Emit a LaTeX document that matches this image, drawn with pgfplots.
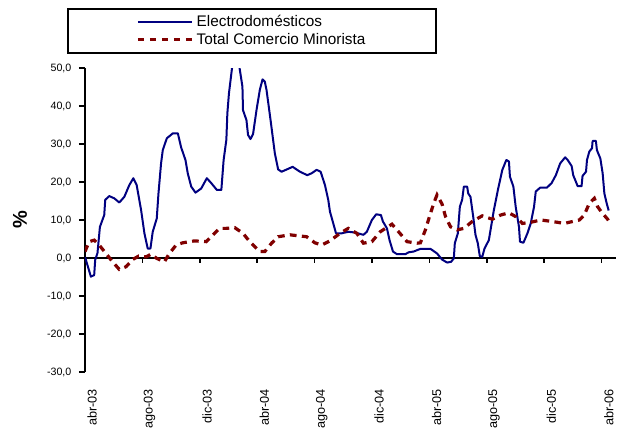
\documentclass[border=0pt]{standalone}
\usepackage{fontspec}
\setmainfont{Liberation Sans}
\usepackage{pgfplots}
\pgfplotsset{compat=1.18}
\usepackage{pgfplotstable}

\definecolor{electro}{HTML}{000080}
\definecolor{comercio}{HTML}{800000}

% variacion anual (%), x = meses desde abr-03
\pgfplotstableread{
mes valor
-0.50 0.3
-0.09 -4.9
0.14 -4.5
0.21 -0.5
0.37 1.3
0.54 8.2
0.84 11.3
0.91 15.3
1.19 16.3
1.54 15.7
1.89 14.6
2.24 16.1
2.59 19.2
2.87 21.0
3.10 19.2
3.41 12.6
3.64 6.5
3.87 2.5
4.06 2.5
4.22 6.9
4.50 10.4
4.62 17.0
4.80 24.9
4.92 28.4
5.20 31.5
5.62 32.8
5.97 32.8
6.20 29.1
6.50 25.8
6.66 22.3
6.90 18.8
7.20 17.2
7.60 18.3
7.99 21.0
8.30 19.7
8.69 17.9
9.00 17.9
9.16 25.8
9.35 31.1
9.42 38.1
9.53 43.3
9.70 48.6
9.81 52.0
10.23 51.0
10.47 45.1
10.51 38.9
10.75 36.3
10.86 32.4
11.03 31.3
11.21 32.6
11.45 38.9
11.68 44.2
11.87 47.0
12.03 46.4
12.15 44.2
12.43 36.3
12.73 27.5
12.96 23.3
13.20 22.7
13.97 24.0
14.48 22.7
14.99 21.8
15.29 22.3
15.64 23.2
15.92 22.7
16.22 19.2
16.45 15.3
16.57 12.2
16.80 9.1
16.99 6.5
17.39 6.5
17.85 6.9
18.32 6.7
18.90 6.1
19.14 6.9
19.49 10.0
19.79 11.5
20.12 11.3
20.26 9.6
20.54 7.8
20.72 4.7
20.96 1.7
21.24 1.0
21.82 1.0
22.05 1.5
22.40 1.7
22.87 2.4
23.57 2.4
23.69 2.1
24.03 1.2
24.38 -0.4
24.73 -1.2
25.01 -1.0
25.20 -0.1
25.27 3.9
25.48 6.5
25.62 13.5
25.78 15.3
25.90 18.8
26.13 18.8
26.20 17.0
26.36 16.1
26.55 10.9
26.71 6.1
26.87 3.9
27.01 0.5
27.18 0.3
27.34 2.5
27.64 4.7
27.76 7.4
27.99 12.6
28.27 17.9
28.58 23.2
28.86 25.8
29.04 25.4
29.11 21.4
29.35 18.8
29.51 13.5
29.74 8.2
29.81 4.3
30.05 4.0
30.33 6.5
30.56 9.1
30.79 13.5
30.91 17.5
31.21 18.5
31.68 18.5
32.01 19.7
32.31 21.8
32.61 24.9
32.96 26.5
33.13 25.8
33.41 24.2
33.52 21.8
33.83 18.9
34.10 18.9
34.17 21.6
34.41 22.7
34.48 25.8
34.64 28.0
34.83 28.9
34.87 30.8
35.10 30.8
35.17 28.4
35.41 26.2
35.57 22.3
35.69 17.0
35.85 14.4
35.99 12.5
}\electrodomesticos

\pgfplotstableread{
mes valor
-0.50 1.7
-0.21 4.3
0.14 4.7
0.49 3.4
0.96 1.2
1.42 -1.0
1.89 -3.0
2.36 -2.3
2.82 -0.4
3.24 0.5
3.76 0.3
4.10 1.0
4.50 -0.1
5.03 -1.0
5.38 1.2
5.85 3.4
6.31 4.0
7.13 4.5
7.95 4.3
8.53 6.5
8.88 7.8
9.35 7.8
9.93 8.0
10.51 6.5
10.98 4.3
11.68 1.7
12.03 1.7
12.50 3.9
12.96 5.6
13.78 6.1
14.94 5.6
15.52 4.0
15.99 3.4
16.57 4.5
17.27 6.5
17.85 7.8
18.44 6.5
18.90 3.9
19.49 4.3
20.07 6.9
20.89 8.9
21.35 6.9
21.94 4.3
22.64 3.9
22.87 4.0
23.22 7.4
23.52 11.1
23.80 14.4
24.03 16.6
24.38 14.2
24.62 10.9
24.97 8.2
25.43 7.4
25.90 7.8
26.48 9.6
27.18 11.1
27.88 10.2
28.46 11.3
29.04 11.9
29.51 10.9
29.98 9.1
30.56 9.4
31.26 10.0
32.08 9.6
32.89 9.1
33.94 10.0
34.29 11.3
34.64 14.4
34.99 15.7
35.22 13.5
35.57 11.7
35.92 10.2
36.10 9.1
}\comercio

\begin{document}
\begin{tikzpicture}
\useasboundingbox (-63.75pt,-42pt) rectangle (414pt,279pt);
\begin{axis}[
  at={(0pt,0pt)}, anchor=south west,
  scale only axis,
  width=398.25pt, height=228pt,
  xmin=-0.5, xmax=36.5,
  ymin=-30, ymax=50,
  axis x line=bottom, axis y line=left,
  x axis line style={draw=none},
  y axis line style={-, line width=1.5pt},
  xtick={0,4,...,36},
  xticklabels={abr-03,ago-03,dic-03,abr-04,ago-04,dic-04,abr-05,ago-05,dic-05,abr-06},
  xtick style={draw=none},
  xticklabel style={rotate=90, anchor=east, inner sep=0pt, xshift=-10.5pt,
    font=\fontsize{9.5}{10}\selectfont},
  ytick={-30,-20,...,50},
  ytick align=outside,
  major tick length=4.5pt,
  ytick style={black, line width=1.2pt},
  yticklabel style={font=\fontsize{8}{9}\selectfont, inner sep=0pt, xshift=-5.5pt,
    /pgf/number format/.cd, fixed, fixed zerofill, precision=1, use comma,
    assume math mode=true},
  ylabel={\%},
  ylabel style={at={(axis description cs:0,0.5)}, anchor=center, yshift=48.8pt,
    font=\fontsize{15}{15}\selectfont\bfseries},
  legend style={
    at={(axis description cs:0,1)}, anchor=north west,
    xshift=-13.2pt, yshift=45pt,
    draw=black, line width=1.2pt,
    inner xsep=51pt, inner ysep=3pt,
    font=\fontsize{11.5}{12}\selectfont,
    row sep=-0.6pt,
  },
  legend cell align=left,
  legend image code/.code={\draw[#1] (0pt,0pt) -- (41pt,0pt);},
]
\addplot[black, line width=1.5pt, forget plot] coordinates {(-0.5,0) (36.5,0)};
\pgfplotsinvokeforeach{3.5,7.5,11.5,15.5,19.5,23.5,27.5,31.5,35.5}{
  \draw[black, line width=1.2pt] (axis cs:#1,0) -- ([yshift=-4pt]axis cs:#1,0);
}
\addplot[electro, line width=1.5pt, line join=round] table[x=mes, y=valor] {\electrodomesticos};
\addlegendentry{Electrodomésticos}
\addplot[comercio, line width=2.4pt, dash pattern=on 5pt off 4pt] table[x=mes, y=valor] {\comercio};
\addlegendentry{Total Comercio Minorista}
\end{axis}
\end{tikzpicture}
\end{document}
